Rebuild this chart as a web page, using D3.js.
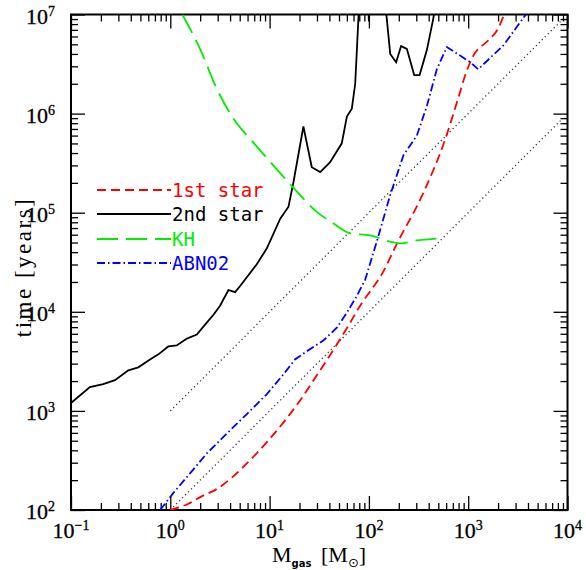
<!DOCTYPE html>
<html>
<head>
<meta charset="utf-8">
<script src="https://cdn.jsdelivr.net/npm/d3@7"></script>
<style>
  body { margin: 0; background: #fff; }
</style>
</head>
<body>
<div id="chart"></div>
<script>
// Formation time vs gas mass, log-log

// 1st star (red dashed)
const star1M = [1, 1.5, 2, 3, 4, 6, 10, 15, 20, 30, 47, 62, 85, 105, 135, 190, 355, 590, 770, 980, 1120, 1600, 2000, 2300];
const star1T = [100, 115, 135, 165, 205, 300, 520, 850, 1250, 2300, 4600, 7200, 12300, 16500, 24000, 48000, 160000, 560000, 1300000, 2800000, 3800000, 5500000, 7200000, 10000000];

// 2nd star (black solid) - goes off the top, values above 1e7 are clipped
const star2M = [0.1, 0.155, 0.211, 0.277, 0.378, 0.476, 0.625, 0.759, 0.955, 1.16, 1.47, 1.85, 2.24, 2.72, 3.17, 3.85, 4.49, 5.05, 7.43, 9.38, 12.8, 15.5, 17.4, 21.9, 26.6, 32.3, 40.7, 53.3, 60, 67.3, 72.8, 78.5, 85, 97.7, 100, 102, 141, 151, 164, 188, 211, 241, 286, 324, 384, 447, 479];
const star2T = [1200, 1740, 1860, 2040, 2570, 2750, 3310, 3720, 4470, 4570, 5370, 5890, 7410, 9330, 11500, 16600, 15800, 18200, 30200, 43700, 87000, 115000, 204000, 741000, 288000, 257000, 324000, 501000, 933000, 1120000, 2000000, 9300000, 20000000, 16000000, 8500000, 16000000, 20000000, 9300000, 4000000, 3300000, 4800000, 4500000, 2450000, 2450000, 4400000, 9300000, 16000000];

// Kelvin-Helmholtz (green long dash)
const khM = [1.32, 2.0, 2.94, 4.32, 6.87, 10.9, 17.4, 29.9, 44, 64.7, 103, 164, 207, 304, 500];
const khT = [10000000, 4470000, 1780000, 890000, 510000, 300000, 178000, 102000, 78000, 62000, 59000, 51000, 49000, 52500, 55000];

// ABN02 (blue dash-dot)
const abnM = [0.79, 1.07, 1.58, 2.33, 3.7, 5.9, 9.4, 13.8, 18, 23.7, 34.8, 47.5, 60, 75.7, 91.6, 120, 164, 223, 304, 384, 483, 610, 1050, 1260, 2270, 3610, 3800];
const abnT = [100, 148, 234, 372, 590, 930, 1480, 2340, 3300, 4000, 5130, 6900, 9800, 14500, 21000, 51000, 151000, 380000, 600000, 1200000, 2800000, 4700000, 3300000, 2800000, 4900000, 9300000, 10000000];

// dotted reference lines t = 1000 M and t = 100 M
const guideM = [1, 8500];
const guideUpperT = [1000, 8500000];
const guideLowerT = [100, 850000];

const legendLabels = ['1st star', '2nd star', 'KH', 'ABN02'];
const xTickExp = [-1, 0, 1, 2, 3, 4];
const yTickExp = [2, 3, 4, 5, 6, 7];

const W = 586, H = 570;
const plotL = 71, plotR = 567.5, plotT = 14.5, plotB = 510;

const svg = d3.select('#chart').append('svg')
  .attr('width', W)
  .attr('height', H);

const x = d3.scaleLog().domain([0.1, 1e4]).range([plotL, plotR]);
const y = d3.scaleLog().domain([100, 1e7]).range([plotB, plotT]);

svg.append('defs').append('clipPath')
  .attr('id', 'plot-clip')
  .append('rect')
  .attr('x', plotL).attr('y', plotT)
  .attr('width', plotR - plotL).attr('height', plotB - plotT);

// minor tick values for each decade
function minors(lo, hi) {
  const out = [];
  for (let e = lo; e < hi; e++) {
    for (let k = 2; k <= 9; k++) out.push(k * Math.pow(10, e));
  }
  return out;
}
const xMajor = xTickExp.map(e => Math.pow(10, e));
const yMajor = yTickExp.map(e => Math.pow(10, e));
const xMinor = minors(-1, 4);
const yMinor = minors(2, 7);

function tickGroup(axis, tx, ty) {
  const g = svg.append('g').attr('transform', `translate(${tx},${ty})`).call(axis);
  g.select('.domain').remove();
  g.selectAll('text').remove();
  g.selectAll('line').attr('stroke', '#000').attr('stroke-width', 1.3);
  return g;
}

// ticks pointing inward on all four sides
[[xMajor, 14], [xMinor, 7]].forEach(([vals, len]) => {
  tickGroup(d3.axisBottom(x).tickValues(vals).tickSize(-len), 0, plotB);
  tickGroup(d3.axisTop(x).tickValues(vals).tickSize(-len), 0, plotT);
});
[[yMajor, 14], [yMinor, 7]].forEach(([vals, len]) => {
  tickGroup(d3.axisLeft(y).tickValues(vals).tickSize(-len), plotL, 0);
  tickGroup(d3.axisRight(y).tickValues(vals).tickSize(-len), plotR, 0);
});

// frame
svg.append('rect')
  .attr('x', plotL).attr('y', plotT)
  .attr('width', plotR - plotL).attr('height', plotB - plotT)
  .attr('fill', 'none')
  .attr('stroke', '#000')
  .attr('stroke-width', 2);

// tick labels 10^n
const serif = '"Liberation Serif", "DejaVu Serif", serif';
function powLabel(sel, e) {
  sel.append('tspan').text('10');
  sel.append('tspan')
    .attr('font-size', '14px')
    .attr('dy', -8)
    .text(e < 0 ? '\u2212' + (-e) : e);
}
svg.append('g').selectAll('text')
  .data(xTickExp)
  .join('text')
  .attr('x', d => x(Math.pow(10, d)))
  .attr('y', 538)
  .attr('text-anchor', 'middle')
  .attr('font-family', serif)
  .attr('font-size', '22px')
  .attr('stroke', '#000')
  .attr('stroke-width', 0.3)
  .each(function(d) { powLabel(d3.select(this), d); });

svg.append('g').selectAll('text')
  .data(yTickExp)
  .join('text')
  .attr('x', 26)
  .attr('y', d => y(Math.pow(10, d)) + 9)
  .attr('font-family', serif)
  .attr('font-size', '22px')
  .attr('stroke', '#000')
  .attr('stroke-width', 0.3)
  .each(function(d) { powLabel(d3.select(this), d); });

// axis titles
const xt = svg.append('text')
  .attr('x', 272)
  .attr('y', 562)
  .attr('font-family', serif)
  .attr('font-size', '22px');
xt.append('tspan').text('M');
xt.append('tspan').attr('font-size', '10px').attr('font-weight', 700)
  .attr('font-family', '"DejaVu Sans", sans-serif').attr('dy', 5).text('gas');
xt.append('tspan').attr('x', 321).attr('dy', -5).text('[M');
xt.append('tspan').attr('font-size', '13px')
  .attr('font-family', '"DejaVu Sans", sans-serif').attr('dy', 5).text('\u2299');
xt.append('tspan').attr('dy', -5).text(']');

svg.append('text')
  .attr('transform', 'translate(31,267) rotate(-90)')
  .attr('text-anchor', 'middle')
  .attr('font-family', serif)
  .attr('font-size', '23px')
  .attr('letter-spacing', '2.5px')
  .text('time [years]');

// curves
const series = [
  { M: star1M, T: star1T, color: '#ff0000', dash: '9,5', curve: d3.curveMonotoneX },
  { M: star2M, T: star2T, color: '#000000', dash: null, curve: d3.curveLinear },
  { M: khM, T: khT, color: '#00ee00', dash: '21,8', curve: d3.curveMonotoneX },
  { M: abnM, T: abnT, color: '#0000ff', dash: '8,3,1.5,3', curve: d3.curveLinear }
];

const plot = svg.append('g').attr('clip-path', 'url(#plot-clip)');

[guideUpperT, guideLowerT].forEach(T => {
  plot.append('path')
    .attr('d', d3.line().x(d => x(d[0])).y(d => y(d[1]))(guideM.map((m, i) => [m, T[i]])))
    .attr('fill', 'none')
    .attr('stroke', '#333')
    .attr('stroke-width', 1.3)
    .attr('stroke-dasharray', '1.2,3');
});

series.forEach(s => {
  const line = d3.line().curve(s.curve).x(d => x(d[0])).y(d => y(d[1]));
  plot.append('path')
    .attr('d', line(s.M.map((m, i) => [m, s.T[i]])))
    .attr('fill', 'none')
    .attr('stroke', s.color)
    .attr('stroke-width', 1.8)
    .attr('stroke-dasharray', s.dash);
});

// legend
const legend = svg.append('g');
const rowBase = [197, 221, 246, 270];
series.forEach((s, i) => {
  legend.append('line')
    .attr('x1', 97).attr('x2', 171)
    .attr('y1', rowBase[i] - 7).attr('y2', rowBase[i] - 7)
    .attr('stroke', s.color)
    .attr('stroke-width', 1.8)
    .attr('stroke-dasharray', s.dash);
  legend.append('text')
    .attr('x', 172)
    .attr('y', rowBase[i])
    .attr('fill', s.color)
    .attr('font-family', '"DejaVu Sans Mono", monospace')
    .attr('font-size', '19px')
    .text(legendLabels[i]);
});
</script>
</body>
</html>
